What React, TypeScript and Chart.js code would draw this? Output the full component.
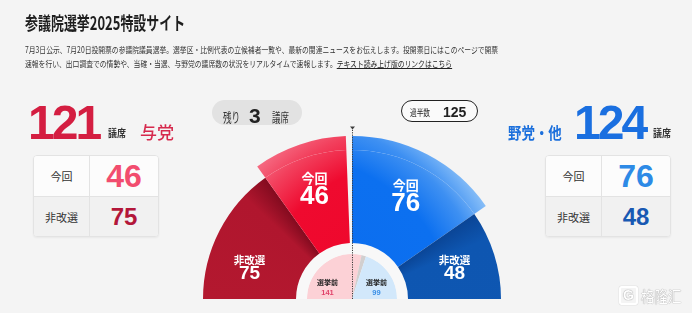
import React, { useEffect, useRef } from "react";
import { Chart, registerables } from "chart.js";

Chart.register(...registerables);

// ---- data ----
const totalSeats = 248;
const majority = 125;
const tableRowLabels = ["今回", "非改選"];
const rulingSeats = [46, 75]; // 今回, 非改選
const oppositionSeats = [76, 48]; // 今回, 非改選
const rulingName = "与党";
const oppositionName = "野党・他";
const preElectionLabels = ["与党", "その他", "野党・他"];
const preElectionSeats = [141, 8, 99];

const rulingTotal = rulingSeats[0] + rulingSeats[1];
const oppositionTotal = oppositionSeats[0] + oppositionSeats[1];
const remainingSeats = totalSeats - rulingTotal - oppositionTotal;

const outerCategories = ["非改選", "今回", "残り", "今回", "非改選"];
const outerSeats = [rulingSeats[1], rulingSeats[0], remainingSeats, oppositionSeats[0], oppositionSeats[1]];
const outerIsNow = [false, true, false, true, false];

// ---- styles ----
const flatColors = ["#b2172f", "#ef0a2f", "rgba(0,0,0,0)", "#0b6ff0", "#0f57b3"];
const innerColors = ["#fcd1d6", "#d2cfcf", "#d2e8fb"];
const innerValueColors = ["#e0436a", "#888", "#3a8fe6"];
const JP = '"Noto Sans CJK JP", "Noto Sans", sans-serif';
const NUM = '"Liberation Sans", Arial, sans-serif';

const fillCache = new WeakMap<any, { key: string; fills: any[] }>();

function buildFills(chart: any) {
  const ctx = chart.ctx as CanvasRenderingContext2D;
  const a = chart.chartArea;
  const cx = (a.left + a.right) / 2;
  const cy = a.bottom;
  const sum = outerSeats.reduce((s, v) => s + v, 0);
  const tB1 = outerSeats[0] / sum / 2;
  const tB4 = (outerSeats[0] + outerSeats[1] + outerSeats[2] + outerSeats[3]) / sum / 2;

  const darkRed = ctx.createConicGradient(Math.PI, cx, cy);
  darkRed.addColorStop(0, "#b3182f");
  darkRed.addColorStop(Math.max(tB1 - 0.03, 0), "#b0162e");
  darkRed.addColorStop(tB1, "#830b1f");
  darkRed.addColorStop(1, "#830b1f");

  const darkBlue = ctx.createConicGradient(Math.PI, cx, cy);
  darkBlue.addColorStop(0, "#0a4596");
  darkBlue.addColorStop(tB4, "#0a4596");
  darkBlue.addColorStop(tB4 + 0.03, "#0e56b1");
  darkBlue.addColorStop(1, "#1059b5");

  const red = ctx.createRadialGradient(cx + 60, cy + 20, 0, cx + 60, cy + 20, 225);
  red.addColorStop(0, "#ee0529");
  red.addColorStop(0.7, "#ef0a2f");
  red.addColorStop(0.86, "#f2405d");
  red.addColorStop(1, "#f6788e");

  const blue = ctx.createRadialGradient(cx - 60, cy + 20, 0, cx - 60, cy + 20, 232);
  blue.addColorStop(0, "#0a6cef");
  blue.addColorStop(0.7, "#0c70f0");
  blue.addColorStop(0.85, "#3e90f2");
  blue.addColorStop(1, "#9ccbf9");

  return [darkRed, red, "rgba(0,0,0,0)", blue, darkBlue];
}

function seatFill(chart: any, i: number) {
  const a = chart.chartArea;
  if (!a) return flatColors[i];
  const key = `${a.left},${a.top},${a.right},${a.bottom}`;
  let entry = fillCache.get(chart);
  if (!entry || entry.key !== key) {
    entry = { key, fills: buildFills(chart) };
    fillCache.set(chart, entry);
  }
  return entry.fills[i];
}

const deg = Math.PI / 180;

const seatLabelPlugin = {
  id: "seatLabels",
  afterDatasetsDraw(chart: any) {
    const ctx = chart.ctx as CanvasRenderingContext2D;
    const arcsA = chart.getDatasetMeta(0).data as any[];
    const arcsB = chart.getDatasetMeta(1).data as any[];
    const arcsD = chart.getDatasetMeta(3).data as any[];
    if (!arcsB.length) return;
    const cx = arcsB[0].x;
    const cy = arcsB[0].y;
    const rIn = arcsB[0].innerRadius;
    const rMid = arcsB[0].outerRadius;
    const rOut = arcsA[0].outerRadius;

    ctx.save();
    // majority line
    const majAngle = -Math.PI + ((majority - 1) / totalSeats) * Math.PI;
    const tipR = rOut + 8;
    const tx = cx + Math.cos(majAngle) * tipR;
    const ty = cy + Math.sin(majAngle) * tipR;
    ctx.strokeStyle = "#3c3c3c";
    ctx.lineWidth = 1;
    ctx.setLineDash([1.2, 1.2]);
    ctx.beginPath();
    ctx.moveTo(Math.round(cx) + 0.5, cy);
    ctx.lineTo(Math.round(tx) + 0.5, ty);
    ctx.stroke();
    ctx.setLineDash([]);
    ctx.fillStyle = "#3c3c3c";
    ctx.beginPath();
    ctx.moveTo(Math.round(tx) + 0.5 - 2.5, ty - 1.5);
    ctx.lineTo(Math.round(tx) + 0.5 + 2.5, ty - 1.5);
    ctx.lineTo(Math.round(tx) + 0.5, ty + 1.5);
    ctx.closePath();
    ctx.fill();

    // outer labels
    ctx.textAlign = "center";
    ctx.textBaseline = "middle";
    ctx.fillStyle = "#ffffff";
    outerSeats.forEach((v, i) => {
      const title = outerCategories[i];
      if (i === 2) return;
      const arc = arcsB[i];
      let angle: number;
      let r: number;
      if (outerIsNow[i]) {
        angle = (arc.startAngle + arc.endAngle) / 2;
        r = rIn + 0.56 * (rOut - rIn);
        const x = cx + Math.cos(angle) * r;
        const y = cy + Math.sin(angle) * r;
        ctx.font = `bold 13px ${JP}`;
        ctx.fillText(title, x, y - 11);
        ctx.font = `bold 26px ${NUM}`;
        ctx.fillText(String(v), x, y + 8);
      } else {
        angle = i === 0 ? arc.startAngle + 17 * deg : arc.endAngle - 17 * deg;
        r = rIn + 0.55 * (rMid - rIn);
        const x = cx + Math.cos(angle) * r;
        const y = cy + Math.sin(angle) * r;
        ctx.font = `bold 10.5px ${JP}`;
        ctx.fillText(title, x, y - 8);
        ctx.font = `bold 19px ${NUM}`;
        ctx.fillText(String(v), x, y + 6.5);
      }
    });

    // inner (pre-election) labels
    [0, arcsD.length - 1].forEach((i) => {
      const arc = arcsD[i];
      const angle = i === 0 ? arc.startAngle + 25 * deg : arc.endAngle - 25 * deg;
      const r = arc.outerRadius * 0.6;
      const x = cx + Math.cos(angle) * r;
      const y = cy + Math.sin(angle) * r;
      ctx.fillStyle = "#222";
      ctx.font = `bold 7px ${JP}`;
      ctx.fillText("選挙前", x, y - 5);
      ctx.fillStyle = innerValueColors[i];
      ctx.font = `bold 7.5px ${NUM}`;
      ctx.fillText(String(preElectionSeats[i]), x, y + 5);
    });
    ctx.restore();
  },
};

function SeatTable({ left, values, colors }: { left: number; values: number[]; colors: string[] }) {
  return (
    <div
      style={{
        position: "absolute",
        left,
        top: 155,
        width: 126,
        height: 82,
        boxSizing: "border-box",
        border: "1px solid #e3e3e3",
        borderRadius: 4,
        overflow: "hidden",
        background: "#fcfcfc",
        boxShadow: "0 1px 2px rgba(0,0,0,0.05)",
      }}
    >
      {tableRowLabels.map((lab, r) => (
        <div
          key={lab}
          style={{
            display: "flex",
            height: 40,
            background: r === 0 ? "#fcfcfc" : "#f1f1f1",
            borderTop: r === 0 ? "none" : "1px solid #e3e3e3",
            boxSizing: "border-box",
          }}
        >
          <div
            style={{
              width: 55,
              borderRight: "1px solid #e3e3e3",
              display: "flex",
              alignItems: "center",
              justifyContent: "center",
              fontFamily: JP,
              fontSize: 11,
              color: "#333",
            }}
          >
            {lab}
          </div>
          <div
            style={{
              flex: 1,
              display: "flex",
              alignItems: "center",
              justifyContent: "center",
              fontFamily: NUM,
              fontWeight: "bold",
              fontSize: r === 0 ? 32 : 24,
              color: colors[r],
            }}
          >
            {values[r]}
          </div>
        </div>
      ))}
    </div>
  );
}

const abs = (s: React.CSSProperties): React.CSSProperties => ({ position: "absolute", whiteSpace: "nowrap", lineHeight: 1, ...s });

export default function App() {
  const canvasRef = useRef<HTMLCanvasElement>(null);

  useEffect(() => {
    document.body.style.margin = "0";
    const canvas = canvasRef.current!;
    const chart = new Chart(canvas, {
      type: "doughnut",
      data: {
        labels: outerCategories,
        datasets: [
          {
            data: outerSeats,
            backgroundColor: (c: any) => (outerIsNow[c.dataIndex] ? seatFill(c.chart, c.dataIndex) : "rgba(0,0,0,0)"),
            borderWidth: 0,
            weight: 14,
          } as any,
          {
            data: outerSeats,
            backgroundColor: (c: any) => seatFill(c.chart, c.dataIndex),
            borderWidth: 0,
            weight: 93,
          } as any,
          {
            data: [totalSeats],
            backgroundColor: "#f8f8f8",
            borderWidth: 0,
            weight: 11,
          } as any,
          {
            data: preElectionSeats,
            backgroundColor: innerColors,
            borderWidth: 0,
            weight: 45,
          } as any,
        ],
      },
      options: {
        responsive: false,
        animation: false,
        devicePixelRatio: 1,
        rotation: -90,
        circumference: 180,
        cutout: 0,
        events: [],
        layout: { padding: { left: 189, right: 177, top: 136, bottom: 14 } },
        plugins: { legend: { display: false }, tooltip: { enabled: false } },
      } as any,
      plugins: [seatLabelPlugin],
    });
    return () => chart.destroy();
  }, []);

  return (
    <div
      style={{
        position: "fixed",
        left: 0,
        top: 0,
        width: 692,
        height: 313,
        overflow: "hidden",
        background: "#f4f4f4",
        fontFamily: JP,
      }}
    >
      <canvas ref={canvasRef} width={692} height={313} style={{ position: "absolute", left: 0, top: 0 }} />

      {/* header */}
      <div style={abs({ left: 25, top: 13, fontSize: 18, fontWeight: "bold", color: "#1e1e1e", transform: "scaleX(0.72)", transformOrigin: "left top" })}>
        参議院選挙2025特設サイト
      </div>
      <div style={abs({ left: 25, top: 45, fontSize: 8.5, color: "#333", transform: "scaleX(0.8)", transformOrigin: "left top" })}>
        7月3日公示、7月20日投開票の参議院議員選挙。選挙区・比例代表の立候補者一覧や、最新の関連ニュースをお伝えします。投開票日にはこのページで開票
      </div>
      <div style={abs({ left: 25, top: 59, fontSize: 8.5, color: "#333", transform: "scaleX(0.8)", transformOrigin: "left top" })}>
        速報を行い、出口調査での情勢や、当確・当選、与野党の議席数の状況をリアルタイムで速報します。
        <span style={{ textDecoration: "underline", color: "#222" }}>テキスト読み上げ版のリンクはこちら</span>
      </div>

      {/* ruling side */}
      <div style={abs({ left: 28, top: 99, fontFamily: NUM, fontWeight: "bold", fontSize: 48, letterSpacing: -3, color: "#d41e41" })}>
        {rulingTotal}
      </div>
      <div style={abs({ left: 108, top: 128, fontSize: 10, fontWeight: "bold", color: "#333", transform: "scaleX(0.9)", transformOrigin: "left top" })}>議席</div>
      <div style={abs({ left: 140, top: 123, fontSize: 17, fontWeight: 500, color: "#d6294d" })}>{rulingName}</div>
      <SeatTable left={33} values={rulingSeats} colors={["#f24d6f", "#b3173a"]} />

      {/* opposition side */}
      <div style={abs({ left: 508, top: 124, fontSize: 16, fontWeight: "bold", color: "#1b6fdc", transform: "scaleX(0.84)", transformOrigin: "left top" })}>
        {oppositionName}
      </div>
      <div style={abs({ left: 574, top: 99, fontFamily: NUM, fontWeight: "bold", fontSize: 48, letterSpacing: -3, color: "#1a6fe0" })}>
        {oppositionTotal}
      </div>
      <div style={abs({ left: 653, top: 128, fontSize: 10, fontWeight: "bold", color: "#333", transform: "scaleX(0.9)", transformOrigin: "left top" })}>議席</div>
      <SeatTable left={545} values={oppositionSeats} colors={["#2d8ae6", "#1859b3"]} />

      {/* remaining pill */}
      <div
        style={abs({
          left: 212,
          top: 100,
          width: 90,
          height: 25,
          borderRadius: 13,
          background: "#e2e2e2",
        })}
      />
      <div style={abs({ left: 223, top: 110, fontSize: 13, color: "#333", transform: "scaleX(0.66)", transformOrigin: "left top" })}>残り</div>
      <div style={abs({ left: 249, top: 105, fontFamily: NUM, fontWeight: "bold", fontSize: 21, color: "#222" })}>{remainingSeats}</div>
      <div style={abs({ left: 272, top: 110, fontSize: 13, color: "#333", transform: "scaleX(0.65)", transformOrigin: "left top" })}>議席</div>

      {/* majority pill */}
      <div
        style={abs({
          left: 401,
          top: 100,
          width: 77,
          height: 22,
          boxSizing: "border-box",
          borderRadius: 11,
          border: "1.5px solid #222",
          background: "#fafafa",
        })}
      />
      <div style={abs({ left: 410, top: 108, fontSize: 9.5, color: "#222", transform: "scaleX(0.7)", transformOrigin: "left top" })}>過半数</div>
      <div style={abs({ left: 443, top: 105, fontFamily: NUM, fontWeight: "bold", fontSize: 14, color: "#222" })}>{majority}</div>

      {/* watermark */}
      <div style={abs({ left: 619, top: 286, display: "flex", alignItems: "center", gap: 3, color: "#ffffff", textShadow: "0 0 1px #9a9a9a, 0 0 1px #9a9a9a" })}>
        <span style={{ fontFamily: NUM, fontWeight: "bold", fontSize: 14, border: "2px solid #fff", borderRadius: 3, padding: "0 2px", boxShadow: "0 0 1px #9a9a9a", lineHeight: "15px" }}>G</span>
        <span style={{ fontSize: 15, transform: "scaleX(0.9)", transformOrigin: "left center", display: "inline-block" }}>格隆汇</span>
      </div>
    </div>
  );
}
